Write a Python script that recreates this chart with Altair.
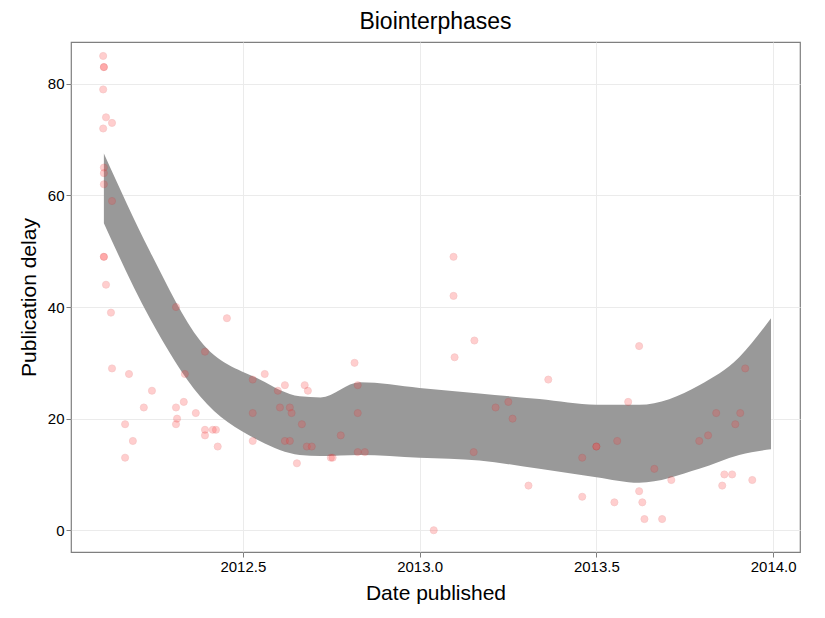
import pandas as pd
import altair as alt

# Scatter points: date published (decimal year) and publication delay
dates = [2012.105, 2012.107, 2012.105, 2012.113, 2012.130, 2012.105, 2012.107, 2012.107,
         2012.107, 2012.130, 2012.107, 2012.113, 2012.127, 2012.130, 2012.178, 2012.167,
         2012.189, 2012.167, 2012.220, 2012.243, 2012.311, 2012.311, 2012.311, 2012.314,
         2012.336, 2012.333, 2012.367, 2012.393, 2012.393, 2012.393, 2012.415, 2012.424,
         2012.429, 2012.455, 2012.528, 2012.528, 2012.528, 2012.562, 2012.599, 2012.605,
         2012.619, 2012.619, 2012.633, 2012.638, 2012.633, 2012.653, 2012.667, 2012.675,
         2012.684, 2012.681, 2012.695, 2012.749, 2012.754, 2012.777, 2012.816, 2012.825,
         2012.825, 2012.825, 2012.845, 2013.040, 2013.096, 2013.096, 2013.099, 2013.155,
         2013.153, 2013.215, 2013.251, 2013.263, 2013.308, 2013.364, 2013.460, 2013.460,
         2013.500, 2013.500, 2013.551, 2013.559, 2013.590, 2013.621, 2013.621, 2013.630,
         2013.636, 2013.664, 2013.686, 2013.712, 2013.791, 2013.816, 2013.839, 2013.856,
         2013.862, 2013.884, 2013.893, 2013.907, 2013.921, 2013.941, 2012.107, 2012.107]
delays = [85, 83, 79, 74, 73, 72, 65, 64,
          62, 59, 49, 44, 39, 29, 28, 19,
          16, 13, 22, 25, 40, 22, 19, 20,
          28, 23, 21, 32, 18, 17, 18, 18,
          15, 38, 27, 21, 16, 28, 25, 22,
          26, 16, 22, 21, 16, 12, 19, 26,
          25, 15, 15, 13, 13, 17, 30, 26,
          21, 14, 14, 0, 49, 42, 31, 34,
          14, 22, 23, 20, 8, 27, 13, 6,
          15, 15, 5, 16, 23, 33, 7, 5,
          2, 11, 2, 9, 16, 17, 21, 8,
          10, 10, 19, 21, 29, 9, 83, 49]

# Smoother confidence band
band_dates = [2012.107, 2012.237, 2012.379, 2012.548, 2012.661, 2012.720, 2012.831,
              2013.000, 2013.169, 2013.339, 2013.500, 2013.621, 2013.791, 2013.904, 2013.994]
band_lo = [55, 38, 24, 16, 13.5, 13.3, 13.5, 13, 12.5, 11, 9.5, 8.5, 11, 13.5, 14.5]
band_hi = [67.5, 50, 34, 27, 24, 23.8, 26.5, 25.5, 24.5, 23.5, 22.5, 22.5, 26, 31, 38]

pts = pd.DataFrame({'date': dates, 'delay': delays})
band = pd.DataFrame({'date': band_dates, 'lo': band_lo, 'hi': band_hi})

xscale = alt.Scale(domain=[2012.014, 2014.076], nice=False, zero=False)
yscale = alt.Scale(domain=[-3.9, 87.5], nice=False, zero=False)

ribbon = alt.Chart(band).mark_area(color='#999999', opacity=1, interpolate='monotone').encode(
    x=alt.X('date:Q', scale=xscale, title='Date published',
            axis=alt.Axis(values=[2012.5, 2013.0, 2013.5, 2014.0], format='.1f', titlePadding=8)),
    y=alt.Y('lo:Q', scale=yscale, title='Publication delay',
            axis=alt.Axis(values=[0, 20, 40, 60, 80], titlePadding=8)),
    y2='hi:Q'
)

points = alt.Chart(pts).mark_circle(size=50, color='#ff4040', opacity=0.25,
                                    stroke='#e02020', strokeWidth=0.8).encode(
    x='date:Q',
    y='delay:Q'
)

chart = alt.layer(ribbon, points).properties(
    width=729, height=510,
    title=alt.TitleParams('Biointerphases', fontSize=23, font='Liberation Sans',
                          fontWeight='normal', color='black', offset=8),
    autosize=alt.AutoSizeParams(type='none'),
    padding={'left': 63, 'top': 34, 'right': 17, 'bottom': 58}
).configure_view(
    stroke='#7f7f7f', strokeWidth=1.2
).configure_axis(
    labelFont='Liberation Sans', titleFont='Liberation Sans',
    labelFontSize=15, titleFontSize=21, titleFontWeight='normal',
    labelColor='black', titleColor='black',
    gridColor='#ebebeb', domain=False, tickColor='#7f7f7f', tickSize=5
)

chart.save("out.html", embed_options={"renderer": "svg", "actions": False})
